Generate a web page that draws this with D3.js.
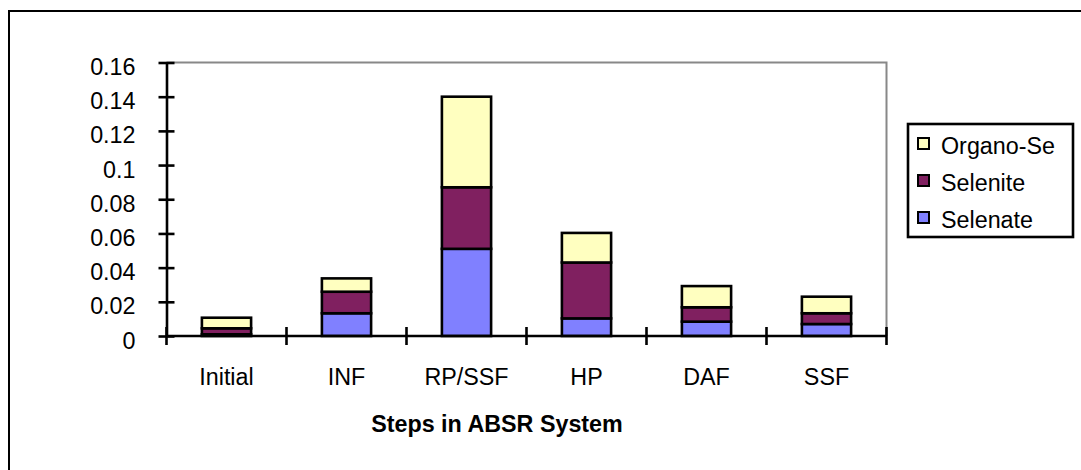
<!DOCTYPE html>
<html>
<head>
<meta charset="utf-8">
<script src="https://cdn.jsdelivr.net/npm/d3@7"></script>
<style>
  html, body { margin: 0; padding: 0; background: #fff; }
  svg { display: block; font-family: Arial, "Liberation Sans", sans-serif; }
</style>
</head>
<body>
<svg id="chart" width="1081" height="470"></svg>
<script>
// Selenium species along the ABSR treatment steps
const categories = ["Initial", "INF", "RP/SSF", "HP", "DAF", "SSF"];
const seriesNames = ["Selenate", "Selenite", "Organo-Se"];
const selenate = [0.001, 0.0133, 0.051, 0.0103, 0.0084, 0.007];
const selenite = [0.0035, 0.0126, 0.036, 0.0327, 0.0084, 0.0063];
const organoSe = [0.0062, 0.0078, 0.053, 0.0173, 0.0124, 0.0097];
const yTicks = [0, 0.02, 0.04, 0.06, 0.08, 0.1, 0.12, 0.14, 0.16];
const colors = ["#8080ff", "#802060", "#ffffc0"];

const FONT = 23.3;
const LINE = 2.6;
const svg = d3.select("#chart");

// outer chart frame
svg.append("rect")
  .attr("x", 9).attr("y", 11).attr("width", 1100).attr("height", 500)
  .attr("fill", "none").attr("stroke", "#000").attr("stroke-width", 2);

const plot = { left: 166.5, right: 886.5, top: 62.5, bottom: 336 };

const x = d3.scaleBand().domain(categories).range([plot.left, plot.right]).paddingInner(0.59).paddingOuter(0.295);
const xEdge = d3.scaleLinear().domain([0, categories.length]).range([plot.left, plot.right]);
const y = d3.scaleLinear().domain([0, 0.16]).range([plot.bottom, plot.top]);

// plot area outline (top and right edges)
svg.append("path")
  .attr("d", `M${plot.left},${plot.top}H${plot.right}V${plot.bottom}`)
  .attr("fill", "none").attr("stroke", "#888").attr("stroke-width", 2);

const rows = categories.map((c, i) => ({
  cat: c, "Selenate": selenate[i], "Selenite": selenite[i], "Organo-Se": organoSe[i]
}));
const stacked = d3.stack().keys(seriesNames)(rows);

svg.append("g").selectAll("g").data(stacked).join("g")
  .attr("fill", (d, i) => colors[i])
  .selectAll("rect").data(d => d).join("rect")
  .attr("x", d => x(d.data.cat))
  .attr("width", x.bandwidth())
  .attr("y", d => y(d[1]))
  .attr("height", d => y(d[0]) - y(d[1]))
  .attr("stroke", "#000").attr("stroke-width", LINE);

// y axis
const yAxis = svg.append("g").attr("transform", `translate(${plot.left},0)`)
  .call(d3.axisLeft(y).tickValues(yTicks).tickFormat(d => d === 0 ? "0" : String(+d.toFixed(2))).tickSize(0).tickPadding(31));
yAxis.attr("font-size", null).attr("font-family", null);
yAxis.select(".domain").attr("stroke", "#000").attr("stroke-width", LINE);
yAxis.selectAll(".tick line").attr("x1", -8).attr("x2", 8).attr("stroke", "#000").attr("stroke-width", LINE);
yAxis.selectAll("text").attr("font-size", FONT).attr("fill", "#000").attr("dy", null).attr("y", 12);

// x axis
const xAxisG = svg.append("g").attr("transform", `translate(0,${plot.bottom})`);
xAxisG.append("line").attr("x1", plot.left).attr("x2", plot.right)
  .attr("stroke", "#000").attr("stroke-width", LINE);
xAxisG.selectAll("line.tk").data(d3.range(categories.length + 1)).join("line")
  .attr("class", "tk")
  .attr("x1", d => xEdge(d)).attr("x2", d => xEdge(d))
  .attr("y1", -9).attr("y2", 9)
  .attr("stroke", "#000").attr("stroke-width", LINE);
xAxisG.selectAll("text").data(categories).join("text")
  .attr("x", d => x(d) + x.bandwidth() / 2)
  .attr("y", 49)
  .attr("text-anchor", "middle")
  .attr("font-size", FONT)
  .text(d => d);

// x axis title
svg.append("text")
  .attr("x", 497).attr("y", 432)
  .attr("text-anchor", "middle")
  .attr("font-size", FONT).attr("font-weight", "bold")
  .text("Steps in ABSR System");

// legend
const legend = svg.append("g");
legend.append("rect")
  .attr("x", 908).attr("y", 124).attr("width", 165).attr("height", 113)
  .attr("fill", "#fff").attr("stroke", "#000").attr("stroke-width", LINE);
const legendItems = seriesNames.map((n, i) => ({ name: n, color: colors[i] })).reverse();
const li = legend.selectAll("g.item").data(legendItems).join("g")
  .attr("class", "item")
  .attr("transform", (d, i) => `translate(918,${143.5 + i * 37})`);
li.append("rect")
  .attr("x", 0).attr("y", -5.5).attr("width", 11).attr("height", 11)
  .attr("fill", d => d.color).attr("stroke", "#000").attr("stroke-width", 2);
li.append("text")
  .attr("x", 23).attr("y", 10)
  .attr("font-size", FONT)
  .text(d => d.name);
</script>
</body>
</html>
